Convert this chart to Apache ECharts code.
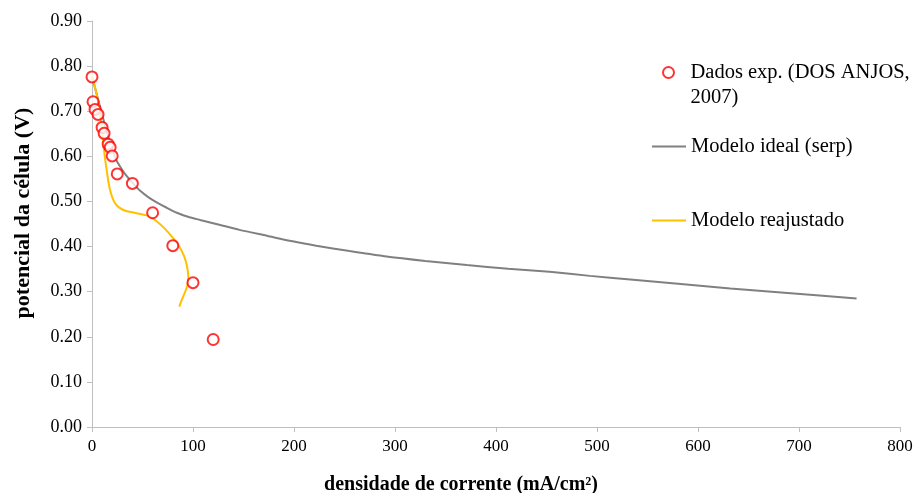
<!DOCTYPE html>
<html>
<head>
<meta charset="utf-8">
<script src="https://cdn.jsdelivr.net/npm/echarts@6/dist/echarts.min.js"></script>
<style>html,body{margin:0;padding:0;background:#fff;}#c{width:916px;height:493px;}</style>
</head>
<body>
<div id="c"></div>
<script>
// Experimental data (DOS ANJOS, 2007)
const expX = [0, 1, 3, 6, 10, 12, 16, 18, 20, 25, 40, 60, 80, 100, 120];
const expY = [0.776, 0.721, 0.704, 0.693, 0.664, 0.651, 0.627, 0.620, 0.601, 0.561, 0.540, 0.475, 0.402, 0.320, 0.194];
// Modelo ideal (serp)
const idealX = [0, 4, 8, 12, 16, 20, 24, 29, 34, 41, 48, 56, 64, 74, 84, 95, 107, 125, 146, 173, 200, 222, 255, 288, 330, 371, 412, 453, 493, 533, 583, 632, 695, 757];
const idealY = [0.776, 0.743, 0.710, 0.676, 0.644, 0.616, 0.592, 0.573, 0.557, 0.539, 0.523, 0.509, 0.498, 0.486, 0.475, 0.466, 0.459, 0.449, 0.437, 0.424, 0.411, 0.402, 0.390, 0.379, 0.368, 0.359, 0.351, 0.344, 0.335, 0.327, 0.317, 0.307, 0.296, 0.285];
// Modelo reajustado
const reajX = [0, 1.3, 6.3, 9.6, 11.9, 14.5, 17.8, 22.8, 31, 44.2, 54, 61, 70.6, 80.5, 86, 91, 94, 95.4, 94.5, 92.5, 89.5, 86.4];
const reajY = [0.776, 0.769, 0.718, 0.666, 0.614, 0.570, 0.526, 0.496, 0.481, 0.474, 0.469, 0.461, 0.443, 0.418, 0.402, 0.380, 0.357, 0.333, 0.315, 0.301, 0.285, 0.267];

const nameExp = 'Dados exp. (DOS ANJOS, 2007)';
const nameIdeal = 'Modelo ideal (serp)';
const nameReaj = 'Modelo reajustado';

const zip = (xs, ys) => xs.map((x, i) => [x, ys[i]]);
const FONT = '"Liberation Serif", "Times New Roman", serif';

const chart = echarts.init(document.getElementById('c'));
const legendText = { fontFamily: FONT, fontSize: 20.5, color: '#000', lineHeight: 25 };
chart.setOption({
  animation: false,
  backgroundColor: '#fff',
  grid: { left: 92, right: 16, top: 21, bottom: 66, containLabel: false, outerBoundsMode: 'none' },
  legend: [
    { data: [{ name: nameExp, icon: 'emptyCircle' }], left: 662, top: 35, padding: 0, itemWidth: 34, itemHeight: 11,
      formatter: () => '\nDados exp. (DOS ANJOS,\n2007)', textStyle: legendText, selectedMode: false },
    { data: [{ name: nameIdeal, icon: 'rect' }], left: 652, top: 134, padding: 0, itemWidth: 34, itemHeight: 2,
      itemStyle: { color: '#808080', borderWidth: 0 }, textStyle: legendText, selectedMode: false },
    { data: [{ name: nameReaj, icon: 'rect' }], left: 652, top: 208, padding: 0, itemWidth: 34, itemHeight: 2,
      itemStyle: { color: '#ffc000', borderWidth: 0 }, textStyle: legendText, selectedMode: false }
  ],
  xAxis: {
    type: 'value', min: 0, max: 800, interval: 100,
    name: 'densidade de corrente (mA/cm²)', nameLocation: 'middle', nameGap: 48,
    nameTextStyle: { fontFamily: FONT, fontSize: 20, fontWeight: 'bold', color: '#000', padding: [0, 70, 0, 0] },
    axisLine: { lineStyle: { color: '#bfbfbf', width: 1 } },
    axisTick: { show: true, length: 5, lineStyle: { color: '#bfbfbf' } },
    axisLabel: { fontFamily: FONT, fontSize: 17, color: '#000', margin: 11 },
    splitLine: { show: false }
  },
  yAxis: {
    type: 'value', min: 0, max: 0.9, interval: 0.1,
    name: 'potencial da célula (V)', nameLocation: 'middle', nameGap: 58,
    nameTextStyle: { fontFamily: FONT, fontSize: 22, fontWeight: 'bold', color: '#000', padding: [0, 0, 0, 22] },
    axisLine: { show: true, lineStyle: { color: '#bfbfbf', width: 1 } },
    axisTick: { show: true, length: 5, lineStyle: { color: '#bfbfbf' } },
    axisLabel: { fontFamily: FONT, fontSize: 18, color: '#000', margin: 10, formatter: v => v.toFixed(2) },
    splitLine: { show: false }
  },
  series: [
    { name: nameIdeal, type: 'line', data: zip(idealX, idealY), smooth: 0.25, symbol: 'none', showSymbol: false,
      lineStyle: { color: '#808080', width: 2 }, itemStyle: { color: '#808080' }, z: 2 },
    { name: nameReaj, type: 'line', data: zip(reajX, reajY), smooth: 0.35, symbol: 'none', showSymbol: false,
      lineStyle: { color: '#ffc000', width: 2 }, itemStyle: { color: '#ffc000' }, z: 3 },
    { name: nameExp, type: 'scatter', data: zip(expX, expY), symbol: 'emptyCircle', symbolSize: 11,
      itemStyle: { color: '#ff0000', borderColor: '#ff0000', borderWidth: 1.5 }, z: 4 }
  ]
});
</script>
</body>
</html>
